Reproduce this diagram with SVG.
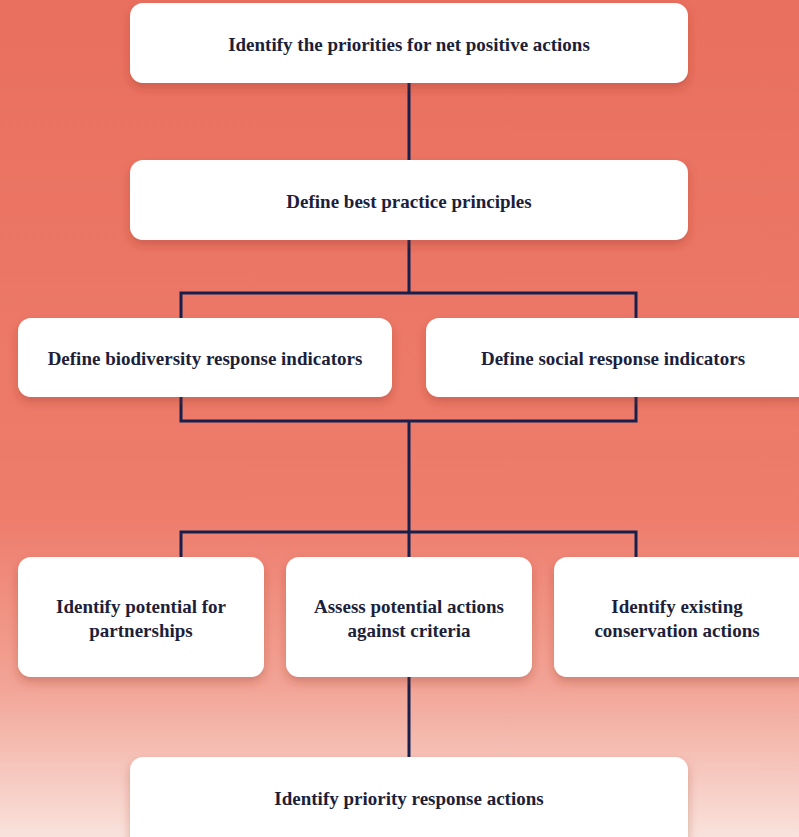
<svg xmlns="http://www.w3.org/2000/svg" width="799" height="837" viewBox="0 0 799 837">
<defs>
<linearGradient id="bg" x1="0" y1="0" x2="0" y2="1">
<stop offset="0" stop-color="#e96f5e"/>
<stop offset="0.62" stop-color="#ee7d6c"/>
<stop offset="0.82" stop-color="#f2a496"/>
<stop offset="1" stop-color="#f9e2dc"/>
</linearGradient>
<filter id="sh" x="-10%" y="-20%" width="120%" height="150%">
<feDropShadow dx="0" dy="5" stdDeviation="5" flood-color="#8a2a1e" flood-opacity="0.3"/>
</filter>
</defs>
<style>
.box{fill:#ffffff;filter:url(#sh)}
.t{font-family:"Liberation Serif","DejaVu Serif",serif;font-size:19px;font-weight:bold;fill:#1d1f3a;text-anchor:middle}
.c{fill:none;stroke:#17204d;stroke-width:3}
</style>
<rect width="799" height="837" fill="url(#bg)"/>
<g id="connectors">
<path class="c" d="M409 83V160"/>
<path class="c" d="M409 240V293M181 318V293H636V318"/>
<path class="c" d="M181 397V421H636V397M409 421V532"/>
<path class="c" d="M181 557V532H636V557M409 532V557"/>
<path class="c" d="M409 677V757"/>
</g>
<g id="n1"><rect class="box" x="130" y="3" width="558" height="80" rx="13"/><text class="t" x="409" y="51">Identify the priorities for net positive actions</text></g>
<g id="n2"><rect class="box" x="130" y="160" width="558" height="80" rx="13"/><text class="t" x="409" y="208">Define best practice principles</text></g>
<g id="n3"><rect class="box" x="18" y="318" width="374" height="79" rx="13"/><text class="t" x="205" y="365">Define biodiversity response indicators</text></g>
<g id="n4"><rect class="box" x="426" y="318" width="385" height="79" rx="13"/><text class="t" x="613" y="365">Define social response indicators</text></g>
<g id="n5"><rect class="box" x="18" y="557" width="246" height="120" rx="13"/><text class="t" x="141" y="613">Identify potential for</text><text class="t" x="141" y="637">partnerships</text></g>
<g id="n6"><rect class="box" x="286" y="557" width="246" height="120" rx="13"/><text class="t" x="409" y="613">Assess potential actions</text><text class="t" x="409" y="637">against criteria</text></g>
<g id="n7"><rect class="box" x="554" y="557" width="257" height="120" rx="13"/><text class="t" x="677" y="613">Identify existing</text><text class="t" x="677" y="637">conservation actions</text></g>
<g id="n8"><rect class="box" x="130" y="757" width="558" height="95" rx="13"/><text class="t" x="409" y="805">Identify priority response actions</text></g>
</svg>
